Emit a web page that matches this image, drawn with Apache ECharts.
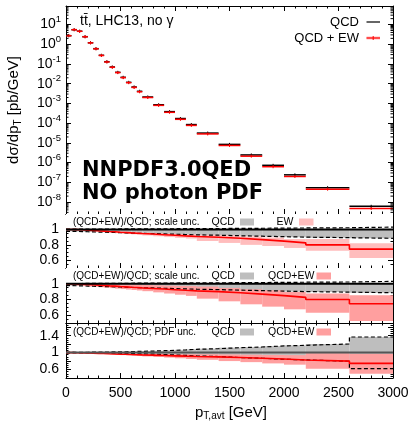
<!DOCTYPE html>
<html>
<head>
<meta charset="utf-8">
<script src="https://cdn.jsdelivr.net/npm/echarts@6/dist/echarts.min.js"></script>
<style>
html, body { margin: 0; padding: 0; background: #fff; }
#chart { width: 412px; height: 421px; }
</style>
</head>
<body>
<div id="chart"></div>
<script>
// bins in p_T,avt [GeV]
const binEdges = [0, 50, 100, 150, 200, 250, 300, 350, 400, 450, 500, 550, 600, 650, 700,
    800, 900, 1000, 1100, 1200, 1400, 1600, 1800, 2000, 2200, 2600, 3000];

// dsigma/dpT [pb/GeV]
const qcd = [2.73, 5.5, 4.6, 2.43, 1.2, 0.60, 0.277, 0.131, 0.0706, 0.038, 0.0212, 0.0118,
    0.00684, 0.00414, 0.00213, 8.6e-4, 3.85e-4, 1.72e-4, 8.5e-5, 3.15e-5, 8.4e-6, 2.45e-6,
    7.3e-7, 2.4e-7, 5.35e-8, 6.1e-9];
const qcdEw = [2.73, 5.49, 4.57, 2.41, 1.18, 0.589, 0.271, 0.127, 0.0683, 0.0366, 0.0203,
    0.0113, 0.0065, 0.0039, 0.0020, 8.0e-4, 3.55e-4, 1.57e-4, 7.7e-5, 2.85e-5, 7.4e-6,
    2.12e-6, 6.2e-7, 1.98e-7, 4.5e-8, 4.7e-9];

// (QCD+EW)/QCD central
const ratio = [1.000, 0.998, 0.995, 0.991, 0.987, 0.982, 0.978, 0.973, 0.969, 0.964, 0.960,
    0.955, 0.951, 0.947, 0.940, 0.932, 0.924, 0.916, 0.909, 0.899, 0.885, 0.868, 0.848,
    0.826, 0.800, 0.745];

// QCD scale uncertainty (grey)
const scaleQcdUp = [1.003, 1.003, 1.003, 1.004, 1.004, 1.004, 1.005, 1.005, 1.005, 1.006,
    1.006, 1.006, 1.007, 1.007, 1.008, 1.008, 1.009, 1.010, 1.010, 1.012, 1.013, 1.015,
    1.017, 1.019, 1.022, 1.030];
const scaleQcdDn = [0.975, 0.974, 0.972, 0.970, 0.968, 0.966, 0.964, 0.962, 0.960, 0.958,
    0.955, 0.953, 0.951, 0.949, 0.946, 0.942, 0.938, 0.934, 0.930, 0.925, 0.918, 0.912,
    0.906, 0.900, 0.893, 0.885];

// EW scale uncertainty (light pink)
const scaleEwUp = [1.003, 1.002, 0.999, 0.996, 0.993, 0.989, 0.986, 0.982, 0.979, 0.975,
    0.972, 0.968, 0.965, 0.962, 0.957, 0.951, 0.945, 0.940, 0.935, 0.930, 0.925, 0.910,
    0.895, 0.875, 0.875, 0.820];
const scaleEwDn = [0.997, 0.994, 0.990, 0.985, 0.980, 0.974, 0.969, 0.963, 0.958, 0.952,
    0.946, 0.941, 0.936, 0.931, 0.922, 0.911, 0.901, 0.891, 0.882, 0.850, 0.825, 0.800,
    0.785, 0.760, 0.725, 0.630];

// QCD+EW scale uncertainty (pink)
const scaleAllUp = [1.010, 1.010, 1.008, 1.006, 1.004, 1.002, 1.000, 0.998, 0.996, 0.994,
    0.992, 0.990, 0.988, 0.986, 0.983, 0.979, 0.975, 0.972, 0.969, 0.963, 0.946, 0.929,
    0.916, 0.895, 0.874, 0.852];
const scaleAllDn = [0.985, 0.980, 0.975, 0.970, 0.965, 0.960, 0.955, 0.950, 0.944, 0.938,
    0.932, 0.926, 0.920, 0.914, 0.905, 0.890, 0.875, 0.860, 0.845, 0.810, 0.776, 0.738,
    0.708, 0.674, 0.632, 0.526];

// QCD PDF uncertainty (grey)
const pdfQcdUp = [1.010, 1.008, 1.008, 1.009, 1.010, 1.012, 1.013, 1.015, 1.017, 1.019,
    1.021, 1.024, 1.027, 1.030, 1.036, 1.045, 1.055, 1.065, 1.078, 1.093, 1.117, 1.133,
    1.157, 1.173, 1.204, 1.369];
const pdfQcdDn = [0.990, 0.992, 0.992, 0.991, 0.990, 0.988, 0.987, 0.985, 0.983, 0.981,
    0.979, 0.976, 0.973, 0.970, 0.964, 0.955, 0.945, 0.935, 0.922, 0.907, 0.883, 0.867,
    0.843, 0.827, 0.796, 0.620];

// QCD+EW PDF uncertainty (pink)
const pdfAllUp = [1.010, 1.006, 1.003, 0.999, 0.996, 0.992, 0.989, 0.985, 0.983, 0.980,
    0.978, 0.975, 0.973, 0.971, 0.969, 0.967, 0.965, 0.963, 0.962, 0.960, 0.955, 0.950,
    0.945, 0.940, 0.985, 0.975];
const pdfAllDn = [0.990, 0.990, 0.987, 0.983, 0.978, 0.972, 0.967, 0.961, 0.955, 0.948,
    0.941, 0.934, 0.927, 0.920, 0.910, 0.897, 0.882, 0.866, 0.850, 0.830, 0.800, 0.775,
    0.745, 0.715, 0.620, 0.502];

const FONT = "Liberation Sans";
const LOG_MIN = Math.log10(2.48e-9);
const LOG_MAX = Math.log10(87.5);

const chart = echarts.init(document.getElementById("chart"));

function segments(values, useLog) {
    return values.map((v, i) => [binEdges[i], binEdges[i + 1], useLog ? Math.log10(v) : v]);
}

function bands(lo, hi) {
    return lo.map((v, i) => [binEdges[i], binEdges[i + 1], v, hi[i]]);
}

function steps(values) {
    return binEdges.map((e, i) => [e, values[Math.min(i, values.length - 1)]]);
}

function segItem(params, api) {
    const a = api.coord([api.value(0), api.value(2)]);
    const b = api.coord([api.value(1), api.value(2)]);
    const c = (a[0] + b[0]) / 2;
    const color = api.visual("color");
    return {
        type: "group",
        children: [
            { type: "line", shape: { x1: a[0], y1: a[1], x2: b[0], y2: b[1] }, style: { stroke: color, lineWidth: 1.5 } },
            { type: "line", shape: { x1: c, y1: a[1] - 1.5, x2: c, y2: a[1] + 1.5 }, style: { stroke: color, lineWidth: 1 } }
        ]
    };
}

function bandItem(params, api) {
    const p0 = api.coord([api.value(0), api.value(3)]);
    const p1 = api.coord([api.value(1), api.value(2)]);
    return {
        type: "rect",
        shape: { x: p0[0], y: p0[1], width: p1[0] - p0[0], height: p1[1] - p0[1] },
        style: { fill: api.visual("color") }
    };
}

function minorTickItem(params, api) {
    const l = api.coord([0, api.value(1)]);
    const r = api.coord([3000, api.value(1)]);
    return {
        type: "group",
        children: [
            { type: "line", shape: { x1: l[0], y1: l[1], x2: l[0] + 2.5, y2: l[1] }, style: { stroke: "#000", lineWidth: 1 } },
            { type: "line", shape: { x1: r[0], y1: r[1], x2: r[0] - 2.5, y2: r[1] }, style: { stroke: "#000", lineWidth: 1 } }
        ]
    };
}

// minor ticks of the log axis at 2..9 x 10^n
const minorLog = [];
for (let e = -9; e <= 1; e++) {
    for (let k = 2; k <= 9; k++) {
        const v = e + Math.log10(k);
        if (v > LOG_MIN && v < LOG_MAX) minorLog.push([0, v]);
    }
}

const grids = [
    { left: 66, top: 6, width: 327, height: 208 },
    { left: 66, top: 214, width: 327, height: 54 },
    { left: 66, top: 268, width: 327, height: 55 },
    { left: 66, top: 323, width: 327, height: 55 }
];

const xAxes = [];
const yAxes = [];

grids.forEach((g, i) => {
    ["bottom", "top"].forEach(pos => {
        xAxes.push({
            type: "value",
            gridIndex: i,
            position: pos,
            min: 0,
            max: 3000,
            interval: 500,
            axisLine: { show: true, onZero: false, lineStyle: { color: "#000", width: 1 } },
            axisTick: { inside: true, length: 5, lineStyle: { color: "#000" } },
            minorTick: { show: true, splitNumber: 5, length: 2.5, lineStyle: { color: "#000" } },
            splitLine: { show: false },
            axisLabel: {
                show: i === 3 && pos === "bottom",
                color: "#000",
                fontFamily: FONT,
                fontSize: 14,
                margin: 8,
                formatter: v => String(v)
            }
        });
    });
});

const ratioAxis = [
    { min: 0.5, max: 1.2, splitNumber: 3, labels: [0.6, 0.8, 1] },
    { min: 0.5, max: 1.2, splitNumber: 3, labels: [0.6, 0.8, 1] },
    { min: 0.4, max: 1.7, interval: 0.2, labels: [0.6, 1, 1.4] }
];

["left", "right"].forEach(pos => {
    yAxes.push({
        type: "value",
        gridIndex: 0,
        position: pos,
        min: LOG_MIN,
        max: LOG_MAX,
        splitNumber: 10,
        axisLine: { show: true, onZero: false, lineStyle: { color: "#000", width: 1 } },
        axisTick: { inside: true, length: 5, lineStyle: { color: "#000" } },
        splitLine: { show: false },
        axisLabel: {
            show: pos === "left",
            showMinLabel: false,
            showMaxLabel: false,
            margin: 5,
            formatter: v => {
                const n = Math.round(v);
                if (Math.abs(v - n) > 1e-6) return "";
                return "{b|10}{s|" + n + "}";
            },
            rich: {
                b: { fontFamily: FONT, fontSize: 14, color: "#000" },
                s: { fontFamily: FONT, fontSize: 9.5, color: "#000", padding: [0, 0, 10, 0] }
            }
        }
    });
});

ratioAxis.forEach((r, k) => {
    ["left", "right"].forEach(pos => {
        const ax = {
            type: "value",
            gridIndex: k + 1,
            position: pos,
            min: r.min,
            max: r.max,
            axisLine: { show: true, onZero: false, lineStyle: { color: "#000", width: 1 } },
            axisTick: { inside: true, length: 5, lineStyle: { color: "#000" } },
            minorTick: { show: true, splitNumber: 4, length: 2.5, lineStyle: { color: "#000" } },
            splitLine: { show: false },
            axisLabel: {
                show: pos === "left",
                showMinLabel: false,
                showMaxLabel: false,
                color: "#000",
                fontFamily: FONT,
                fontSize: 14,
                margin: 7,
                formatter: v => r.labels.some(l => Math.abs(l - v) < 1e-6) ? String(+v.toFixed(1)) : ""
            }
        };
        if (r.interval) ax.interval = r.interval;
        else ax.splitNumber = r.splitNumber;
        yAxes.push(ax);
    });
});

const series = [
    {
        type: "custom", xAxisIndex: 0, yAxisIndex: 0, renderItem: minorTickItem,
        data: minorLog, encode: { x: 0, y: 1 }, silent: true, z: 6
    },
    {
        type: "custom", xAxisIndex: 0, yAxisIndex: 0, renderItem: segItem, clip: true,
        data: segments(qcd, true), encode: { x: [0, 1], y: 2 }, itemStyle: { color: "#000" }, z: 3
    },
    {
        type: "custom", xAxisIndex: 0, yAxisIndex: 0, renderItem: segItem, clip: true,
        data: segments(qcdEw, true), encode: { x: [0, 1], y: 2 }, itemStyle: { color: "#ff0000" }, z: 4
    }
];

const panels = [
    { greyUp: scaleQcdUp, greyDn: scaleQcdDn, pinkUp: scaleEwUp, pinkDn: scaleEwDn, pink: "#ffbdbd", unity: "#000", cover: true },
    { greyUp: scaleQcdUp, greyDn: scaleQcdDn, pinkUp: scaleAllUp, pinkDn: scaleAllDn, pink: "#ff9f9f", unity: "#000", cover: true },
    { greyUp: pdfQcdUp, greyDn: pdfQcdDn, pinkUp: pdfAllUp, pinkDn: pdfAllDn, pink: "#ff9f9f", unity: "#555", cover: false }
];

panels.forEach((p, k) => {
    const xi = 2 * (k + 1);
    const yi = 2 * (k + 1);
    series.push({
        type: "custom", xAxisIndex: xi, yAxisIndex: yi, renderItem: bandItem, clip: true,
        data: bands(p.greyDn, p.greyUp), encode: { x: [0, 1], y: [2, 3] }, itemStyle: { color: "#bebebe" }, z: 1
    });
    series.push({
        type: "custom", xAxisIndex: xi, yAxisIndex: yi, renderItem: bandItem, clip: true,
        data: bands(p.pinkDn, p.pinkUp), encode: { x: [0, 1], y: [2, 3] }, itemStyle: { color: p.pink }, z: 2
    });
    if (p.cover) {
        series.push({
            type: "custom", xAxisIndex: xi, yAxisIndex: yi, renderItem: bandItem, clip: true,
            data: [[0, 3000, 1.0, 1.2]], encode: { x: [0, 1], y: [2, 3] }, itemStyle: { color: "#fff" }, z: 3
        });
    }
    [p.greyUp, p.greyDn].forEach(arr => {
        series.push({
            type: "line", xAxisIndex: xi, yAxisIndex: yi, step: "end", symbol: "none",
            data: steps(arr), lineStyle: { color: "#000", width: 1.2, type: [4, 2.5] }, z: 4
        });
    });
    series.push({
        type: "line", xAxisIndex: xi, yAxisIndex: yi, step: "end", symbol: "none",
        data: steps(ratio), lineStyle: { color: "#ff0000", width: 1.6 }, z: 5
    });
    series.push({
        type: "line", xAxisIndex: xi, yAxisIndex: yi, symbol: "none",
        data: [[0, 1], [3000, 1]], lineStyle: { color: p.unity, width: 2 }, z: 6
    });
});

function txt(x, y, text, extra) {
    return Object.assign({
        type: "text", x: x, y: y, z: 100,
        style: Object.assign({ text: text, fill: "#000", font: "14px " + FONT, verticalAlign: "middle" }, extra || {})
    });
}

function box(x, y, w, h, color) {
    return { type: "rect", z: 100, shape: { x: x, y: y, width: w, height: h }, style: { fill: color } };
}

function seg(x1, y1, x2, y2, color, w) {
    return { type: "line", z: 101, shape: { x1: x1, y1: y1, x2: x2, y2: y2 }, style: { stroke: color, lineWidth: w } };
}

const ratioLabels = [
    { y: 222, text: "(QCD+EW)/QCD; scale unc.", second: "EW", sx: 276.5, bx: 299, pink: "#ffbdbd" },
    { y: 276, text: "(QCD+EW)/QCD; scale unc.", second: "QCD+EW", sx: 268, bx: 316.5, pink: "#ff9f9f" },
    { y: 332, text: "(QCD+EW)/QCD; PDF unc.", second: "QCD+EW", sx: 268, bx: 316.5, pink: "#ff9f9f" }
];

const graphics = [
    txt(80, 21, "tt\u0304, LHC13, no \u03b3", { font: "14px " + FONT }),
    txt(359, 22, "QCD", { font: "13px " + FONT, align: "right" }),
    seg(366.5, 22, 380, 22, "#000", 1.2),
    txt(359, 38, "QCD + EW", { font: "13px " + FONT, align: "right" }),
    box(366.5, 36.5, 13.5, 3, "#ffbdbd"),
    seg(366.5, 38, 380, 38, "#ff0000", 1.2),
    seg(373.2, 36, 373.2, 40, "#ff0000", 1),
    txt(82, 170.5, "NNPDF3.0QED", { font: "bold 21px 'DejaVu Sans'" }),
    txt(82, 193.5, "NO photon PDF", { font: "bold 21px 'DejaVu Sans'" }),
    {
        type: "text", x: 14, y: 110, rotation: Math.PI / 2, z: 100,
        style: {
            text: "{a|d\u03c3/dp}{s|T}{a| [pb/GeV]}",
            align: "center", verticalAlign: "middle",
            rich: {
                a: { fontFamily: FONT, fontSize: 15, fill: "#000" },
                s: { fontFamily: FONT, fontSize: 10, fill: "#000", padding: [8, 0, 0, 0] }
            }
        }
    },
    {
        type: "text", x: 267, y: 413, z: 100,
        style: {
            text: "{a|p}{s|T,avt}{a| [GeV]}",
            align: "right", verticalAlign: "middle",
            rich: {
                a: { fontFamily: FONT, fontSize: 15, fill: "#000" },
                s: { fontFamily: FONT, fontSize: 10, fill: "#000", padding: [7, 0, 0, 0] }
            }
        }
    }
];

ratioLabels.forEach(r => {
    graphics.push(txt(73, r.y, r.text, { font: "10px " + FONT }));
    graphics.push(txt(211.5, r.y, "QCD", { font: "10.5px " + FONT }));
    graphics.push(box(240, r.y - 3.5, 14, 7, "#bebebe"));
    graphics.push(txt(r.sx, r.y, r.second, { font: "10.5px " + FONT }));
    graphics.push(box(r.bx, r.y - 3.5, 14.5, 7, r.pink));
});

chart.setOption({
    animation: false,
    backgroundColor: "#fff",
    grid: grids,
    xAxis: xAxes,
    yAxis: yAxes,
    series: series,
    graphic: { elements: graphics }
});
</script>
</body>
</html>
